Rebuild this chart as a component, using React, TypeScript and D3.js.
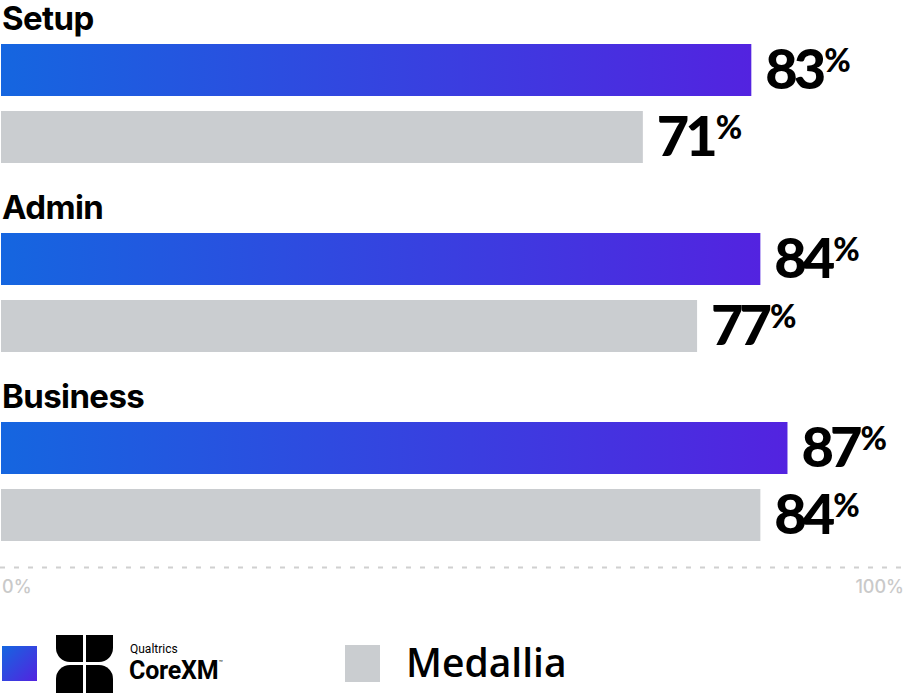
import React from 'react';
import * as d3 from 'd3';

const categories = ['Setup', 'Admin', 'Business'];
const seriesNames = ['Qualtrics CoreXM', 'Medallia'];
const coreXM = [83, 84, 87];
const medallia = [71, 77, 84];
const axisTicks = [0, 100];

const W = 906;
const H = 693;

const App = () => {
  const x = d3.scaleLinear().domain([0, 100]).range([1, 905]);
  const yGroup = d3.scaleBand<string>().domain(categories).range([11, 11 + 189 * 3]).padding(0);
  const ySeries = d3.scaleBand<string>().domain(seriesNames).range([33, 152]).paddingInner(15 / 67).paddingOuter(0);
  const bh = ySeries.bandwidth();

  const rows = categories.map((c, i) => ({ cat: c, values: [coreXM[i], medallia[i]] }));

  const labelFont = 'Inter, "Open Sans", sans-serif';
  const valueFont = 'Lato, Inter, sans-serif';

  return (
    <svg width={W} height={H} style={{ position: 'absolute', left: 0, top: 0 }}>
      <defs>
        <linearGradient id="blueGrad" x1="0" x2="1" y1="0" y2="0">
          <stop offset="0%" stopColor="#1566e0" />
          <stop offset="100%" stopColor="#5323e0" />
        </linearGradient>
        <linearGradient id="blueGradSq" x1="0" x2="1" y1="0" y2="1">
          <stop offset="0%" stopColor="#1566e0" />
          <stop offset="100%" stopColor="#5323e0" />
        </linearGradient>
      </defs>
      {rows.map((r) => {
        const g = yGroup(r.cat) ?? 0;
        return (
          <g key={r.cat} transform={`translate(0,${g})`}>
            <text x={2} y={ySeries(seriesNames[0])! - 14} fontFamily={labelFont} fontWeight={700} fontSize={33} fill="#000" letterSpacing={-0.6}>
              {r.cat}
            </text>
            {r.values.map((v, j) => {
              const yy = ySeries(seriesNames[j]) ?? 0;
              return (
                <g key={j}>
                  <rect x={x(0)} y={yy} width={x(v) - x(0)} height={bh} fill={j === 0 ? 'url(#blueGrad)' : '#cacdd0'} />
                  <text x={x(v) + 14} y={yy + bh / 2 + 19} fontFamily={valueFont} fontWeight={900} fontSize={56} letterSpacing={-4} fill="#000">
                    {v}
                    <tspan fontSize={32} dy={-17} letterSpacing={0} dx={2}>%</tspan>
                  </text>
                </g>
              );
            })}
          </g>
        );
      })}

      <line x1={0} x2={W} y1={567.5} y2={567.5} stroke="#d0d0d0" strokeWidth={2} strokeDasharray="5 9" />
      {axisTicks.map((t) => (
        <text key={t} x={t === 0 ? x(t) + 1 : x(t) - 1} y={593} textAnchor={t === 0 ? 'start' : 'end'} fontFamily={labelFont} fontWeight={500} fontSize={18} fill="#c9c9c9">
          {t}%
        </text>
      ))}

      {/* legend */}
      <rect x={2} y={646} width={35} height={35} fill="url(#blueGradSq)" />
      <g fill="#000">
        <path d="M56,635 H83 V662 H70 A14,14 0 0 1 56,648 Z" />
        <path d="M86,635 H113 V648 A14,14 0 0 1 99,662 H86 Z" />
        <path d="M56,679 A14,14 0 0 1 70,665 H83 V693 H56 Z" />
        <path d="M86,665 H99 A14,14 0 0 1 113,679 V693 H86 Z" />
      </g>
      <text x={130} y={653} fontFamily='Roboto, sans-serif' fontSize={12} fill="#000">Qualtrics</text>
      <text x={129} y={679} fontFamily='Roboto, sans-serif' fontWeight={700} fontSize={25} fill="#000" letterSpacing={-0.2}>
        CoreXM
        <tspan fontSize={7} dy={-14} fontWeight={400}>™</tspan>
      </text>
      <rect x={345} y={645} width={35} height={37} fill="#cacdd0" />
      <text x={406} y={677} fontFamily='"Open Sans", sans-serif' fontWeight={600} fontSize={39} fill="#000">Medallia</text>
    </svg>
  );
};

export default App;
